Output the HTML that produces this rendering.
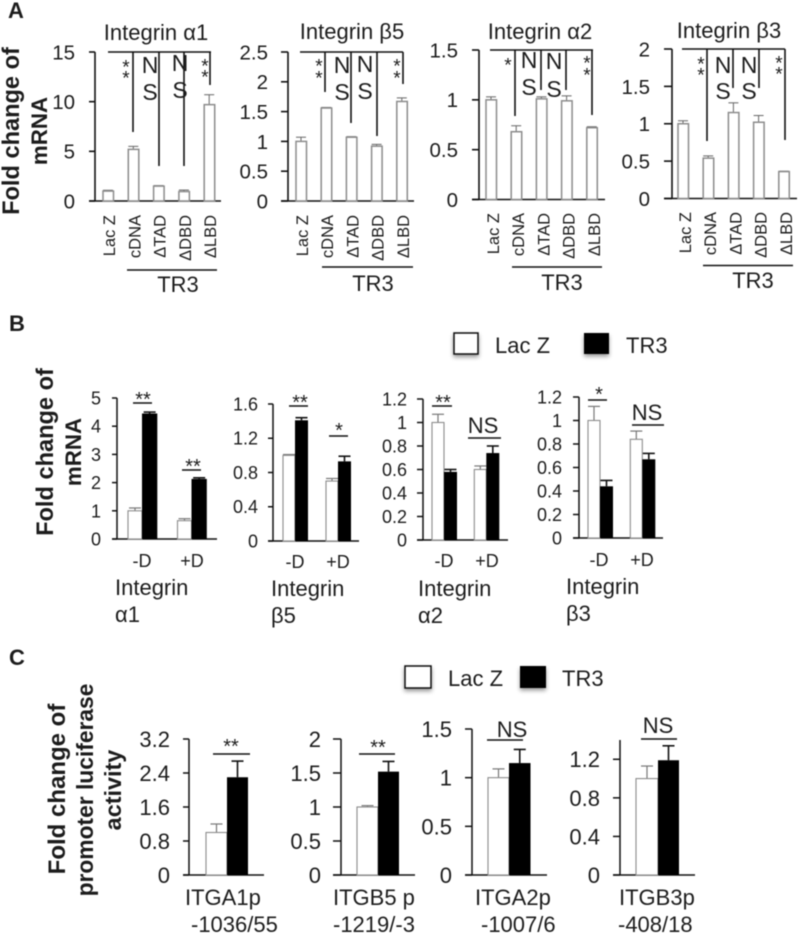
<!DOCTYPE html>
<html lang="en">
<head>
<meta charset="utf-8">
<title>Integrin mRNA and promoter activity</title>
<style>
html,body{margin:0;padding:0;background:#fff;width:800px;height:934px;overflow:hidden}
svg{display:block;filter:blur(0.45px)}
text{font-family:"Liberation Sans",sans-serif;fill:#1c1c1c}
</style>
</head>
<body>
<svg id="figure" width="800" height="934" viewBox="0 0 800 934" xmlns="http://www.w3.org/2000/svg">
<defs>
<filter id="soft-shadow" x="-30%" y="-30%" width="160%" height="170%"><feDropShadow dx="0" dy="2.5" stdDeviation="2" flood-color="#000" flood-opacity="0.4"/></filter>
</defs>
</svg>
<script>
/* ---------- data: panel A ---------- */
const categoriesA = ['Lac Z', 'cDNA', 'ΔTAD', 'ΔDBD', 'ΔLBD'];
const valuesA1 = [1, 5.2, 1.5, 0.95, 9.7];
const errorsA1 = [0.08, 0.3, 0.05, 0.15, 1.0];
const ticksA1 = ['0', '5', '10', '15'];
const valuesA2 = [1, 1.56, 1.07, 0.92, 1.67];
const errorsA2 = [0.07, 0.01, 0.01, 0.03, 0.06];
const ticksA2 = ['0', '0.5', '1', '1.5', '2', '2.5'];
const valuesA3 = [1, 0.68, 1.01, 0.99, 0.72];
const errorsA3 = [0.03, 0.06, 0.02, 0.05, 0.01];
const ticksA3 = ['0', '0.5', '1', '1.5'];
const valuesA4 = [1, 0.54, 1.15, 1.02, 0.36];
const errorsA4 = [0.04, 0.03, 0.13, 0.09, 0.005];
const ticksA4 = ['0', '0.5', '1', '1.5', '2'];

/* ---------- data: panel B ---------- */
const categoriesB = ['-D', '+D'];
const lacZB1 = [1, 0.65];
const lacZErrB1 = [0.1, 0.07];
const tr3B1 = [4.45, 2.13];
const tr3ErrB1 = [0.05, 0.04];
const ticksB1 = ['0', '1', '2', '3', '4', '5'];
const lacZB2 = [1, 0.7];
const lacZErrB2 = [0.01, 0.03];
const tr3B2 = [1.41, 0.93];
const tr3ErrB2 = [0.03, 0.06];
const ticksB2 = ['0', '0.4', '0.8', '1.2', '1.6'];
const lacZB3 = [1, 0.6];
const lacZErrB3 = [0.07, 0.03];
const tr3B3 = [0.58, 0.74];
const tr3ErrB3 = [0.02, 0.06];
const ticksB3 = ['0', '0.2', '0.4', '0.6', '0.8', '1', '1.2'];
const lacZB4 = [1, 0.84];
const lacZErrB4 = [0.12, 0.07];
const tr3B4 = [0.44, 0.67];
const tr3ErrB4 = [0.05, 0.05];
const ticksB4 = ['0', '0.2', '0.4', '0.6', '0.8', '1', '1.2'];

/* ---------- data: panel C ---------- */
const lacZC1 = [1];
const lacZErrC1 = [0.2];
const tr3C1 = [2.3];
const tr3ErrC1 = [0.38];
const ticksC1 = ['0', '0.8', '1.6', '2.4', '3.2'];
const lacZC2 = [1];
const lacZErrC2 = [0.02];
const tr3C2 = [1.52];
const tr3ErrC2 = [0.15];
const ticksC2 = ['0', '0.5', '1', '1.5', '2'];
const lacZC3 = [1];
const lacZErrC3 = [0.09];
const tr3C3 = [1.15];
const tr3ErrC3 = [0.14];
const ticksC3 = ['0', '0.5', '1', '1.5'];
const lacZC4 = [1];
const lacZErrC4 = [0.13];
const tr3C4 = [1.19];
const tr3ErrC4 = [0.15];
const ticksC4 = ['0', '0.4', '0.8', '1.2'];

/* ---------- drawing helpers ---------- */
const svg = document.getElementById('figure');
const NS_URI = 'http://www.w3.org/2000/svg';
function make(tag, name, attrs, parent) {
  const el = document.createElementNS(NS_URI, tag);
  
  
  for (const k in attrs) el.setAttribute(k, attrs[k]);
  (parent || svg).appendChild(el);
  return el;
}
function line(name, x1, y1, x2, y2, color, w, parent) {
  return make('line', name, {x1: x1, y1: y1, x2: x2, y2: y2, stroke: color, 'stroke-width': w}, parent);
}
function label(name, str, x, y, size, anchor, parent, extra) {
  const attrs = Object.assign({x: x, y: y, 'font-size': size, 'text-anchor': anchor || 'start'}, extra || {});
  const el = make('text', name, attrs, parent);
  el.textContent = str;
  return el;
}
function vLabel(name, str, x, y, size, anchor, parent, extra) {
  return label(name, str, 0, 0, size, anchor, parent,
    Object.assign({transform: 'translate(' + x + ' ' + y + ') rotate(-90)'}, extra || {}));
}
function stars(name, str, x, cy, size, parent) {
  return label(name, str, x, cy + size * 0.56, size, 'middle', parent);
}
function yAxis(group, prefix, ticks, domainMax, g, tickSize, axisW) {
  const scale = v => g.bottom - (v / domainMax) * (g.bottom - g.top);
  line(prefix + '-y-axis', g.axisX, g.top, g.axisX, g.bottom, '#111', axisW, group);
  line(prefix + '-x-axis', g.tickLeft, g.bottom, g.right, g.bottom, '#111', axisW, group);
  ticks.forEach(t => {
    const y = scale(parseFloat(t));
    line(prefix + '-y-tick', g.tickLeft, y, g.axisX, y, '#111', axisW, group);
    label(prefix + '-y-tick-label', t, g.labelRight, y + tickSize * 0.36, tickSize, 'end', group);
  });
  return scale;
}
function whisker(group, name, x, yTop, yBase, cap, color, w) {
  line(name + '-error-stem', x, yBase, x, yTop, color, w, group);
  line(name + '-error-cap', x - cap, yTop, x + cap, yTop, color, w, group);
}

/* ---------- panel A: five outlined bars ---------- */
function chartA(id, values, errors, ticks, g) {
  const group = make('g', 'chart-' + id, {});
  const y = yAxis(group, id, ticks, parseFloat(ticks[ticks.length - 1]), g, 20.5, 1.6);
  values.forEach((v, i) => {
    const c = g.first + i * g.step;
    const top = y(v);
    whisker(group, id + '-bar', c, y(v + errors[i]), top, 5, '#666', 1);
    make('rect', id + '-bar-' + i, {x: c - 5, y: top, width: 10.5, height: g.bottom - top, fill: '#fff', stroke: '#8c8c8c', 'stroke-width': 1.5}, group);
    vLabel(id + '-category-label', categoriesA[i], c + g.catOffset, g.catTop, 16.5, 'end', group);
  });
  label(id + '-title', g.title, g.titleX, g.titleY, 22, 'middle', group);
  line(id + '-sig-line', g.sigL, g.top, g.sigR, g.top, '#111', 1.6, group);
  g.drops.forEach(d => line(id + '-sig-drop', d[0], g.top, d[0], d[1], '#111', 1.6, group));
  g.ns.forEach(n => {
    label(id + '-ns-n', 'N', n[0], n[1], 23, 'middle', group);
    label(id + '-ns-s', 'S', n[0], n[2], 23, 'middle', group);
  });
  g.star.forEach(s => stars(id + '-star', '*', s[0], s[1], 19, group));
  line(id + '-tr3-bracket', g.brL, g.brY, g.brR, g.brY, '#111', 1.4, group);
  label(id + '-tr3-label', 'TR3', g.trX, g.trY, 22, 'middle', group);
}

/* ---------- panels B and C: paired bars ---------- */
function chartPair(id, lac, lacErr, tr3, tr3Err, ticks, domainMax, g) {
  const group = make('g', 'chart-' + id, {});
  const y = yAxis(group, id, ticks, domainMax, g, g.tickSize, 1.5);
  lac.forEach((v, i) => {
    const x0 = g.start + i * g.groupStep;
    const mid = x0 + g.w1;
    const cLac = x0 + g.w1 / 2;
    const cTr = mid + g.w2 / 2;
    whisker(group, id + '-lacz', cLac, y(v + lacErr[i]), y(v), g.cap, '#777', 1.2);
    make('rect', id + '-lacz-bar-' + i, {x: x0, y: y(v), width: g.w1, height: g.bottom - y(v), fill: '#fff', stroke: '#8c8c8c', 'stroke-width': 1.1}, group);
    whisker(group, id + '-tr3', cTr, y(tr3[i] + tr3Err[i]), y(tr3[i]), g.cap, '#111', 1.6);
    make('rect', id + '-tr3-bar-' + i, {x: mid, y: y(tr3[i]), width: g.w2, height: g.bottom - y(tr3[i]), fill: '#000'}, group);
  });
  return group;
}
function sigLine(group, id, x1, x2, y, w) {
  line(id + '-sig-line', x1, y, x2, y, '#111', w || 1.6, group);
}

/* ---------- panel letters ---------- */
label('panel-label-a', 'A', 8, 18, 22, 'start', null, {'font-weight': 'bold'});
label('panel-label-b', 'B', 9, 331, 22, 'start', null, {'font-weight': 'bold'});
label('panel-label-c', 'C', 9, 665, 22, 'start', null, {'font-weight': 'bold'});

/* ---------- y titles ---------- */
const bold = {'font-weight': 'bold'};
vLabel('panel-a-y-title-line-1', 'Fold change of', 19, 131, 23.6, 'middle', null, bold);
vLabel('panel-a-y-title-line-2', 'mRNA', 47, 131, 22.3, 'middle', null, bold);
vLabel('panel-b-y-title-line-1', 'Fold change of', 53, 452, 23.6, 'middle', null, bold);
vLabel('panel-b-y-title-line-2', 'mRNA', 81, 452, 22.3, 'middle', null, bold);
vLabel('panel-c-y-title-line-1', 'Fold change of', 65, 789, 24, 'middle', null, bold);
vLabel('panel-c-y-title-line-2', 'promoter luciferase', 93, 790, 22.8, 'middle', null, bold);
vLabel('panel-c-y-title-line-3', 'activity', 121, 790, 23.4, 'middle', null, bold);

/* ---------- panel A charts ---------- */
chartA('a1', valuesA1, errorsA1, ticksA1, {
  axisX: 95, top: 52, bottom: 201, tickLeft: 89, right: 221, labelRight: 75,
  first: 108, step: 25.3, catOffset: 7, catTop: 215,
  title: 'Integrin α1', titleX: 156, titleY: 40,
  sigL: 108, sigR: 211, drops: [[133, 132], [159, 166], [184, 166], [210, 85]],
  ns: [[150, 73, 100], [180, 71, 98]], star: [[126, 63], [126, 74], [205, 62], [205, 73]],
  brL: 127, brR: 217, brY: 270, trX: 178, trY: 292
});
chartA('a2', valuesA2, errorsA2, ticksA2, {
  axisX: 288, top: 52, bottom: 201, tickLeft: 281, right: 414, labelRight: 268,
  first: 301, step: 25.2, catOffset: 7, catTop: 215,
  title: 'Integrin β5', titleX: 352, titleY: 39,
  sigL: 300, sigR: 403, drops: [[325, 92], [351, 123], [377, 136], [403, 84]],
  ns: [[342, 73, 100], [365, 72, 99]], star: [[319, 62], [319, 74], [397, 62], [397, 74]],
  brL: 322, brR: 413, brY: 267, trX: 373, trY: 291
});
chartA('a3', valuesA3, errorsA3, ticksA3, {
  axisX: 479, top: 50, bottom: 199.5, tickLeft: 472, right: 605, labelRight: 458,
  first: 491, step: 25.2, catOffset: 8, catTop: 213,
  title: 'Integrin α2', titleX: 540, titleY: 39,
  sigL: 490, sigR: 593, drops: [[515, 116], [541, 90], [566, 90], [592, 115]],
  ns: [[529, 68, 95], [554, 69, 97]], star: [[508, 61], [587, 59], [587, 71]],
  brL: 512, brR: 602, brY: 267, trX: 562, trY: 290
});
chartA('a4', valuesA4, errorsA4, ticksA4, {
  axisX: 672, top: 49, bottom: 198.5, tickLeft: 664, right: 797, labelRight: 650,
  first: 683, step: 25.2, catOffset: 8, catTop: 212,
  title: 'Integrin β3', titleX: 729, titleY: 38,
  sigL: 682, sigR: 785, drops: [[707, 141], [733, 88], [759, 88], [785, 140]],
  ns: [[723, 73, 99], [749, 73, 99]], star: [[701, 60], [701, 71], [779, 59], [779, 70]],
  brL: 703, brR: 793, brY: 265.5, trX: 753, trY: 288
});

/* ---------- panel B charts ---------- */
function chartB(id, lac, lacErr, tr3, tr3Err, ticks, g, sub1, sub2, subX, subY1, subY2, catY, catXs) {
  const group = chartPair(id, lac, lacErr, tr3, tr3Err, ticks, parseFloat(ticks[ticks.length - 1]), g);
  categoriesB.forEach((c, i) => label(id + '-category-label', c, catXs[i], catY, 18, 'middle', group));
  label(id + '-title-line-1', sub1, subX, subY1, 22, 'start', group);
  label(id + '-title-line-2', sub2, subX, subY2, 22, 'start', group);
  return group;
}
const b1 = chartB('b1', lacZB1, lacZErrB1, tr3B1, tr3ErrB1, ticksB1,
  {axisX: 117, top: 398, bottom: 539, tickLeft: 112, right: 217, labelRight: 101, tickSize: 18,
   start: 128, groupStep: 49.5, w1: 14, w2: 15.3, cap: 6},
  'Integrin', 'α1', 115, 595, 622, 567, [142, 192]);
sigLine(b1, 'b1-minus-d', 133, 152, 403);
stars('b1-minus-d-stars', '**', 143, 395, 20, b1);
sigLine(b1, 'b1-plus-d', 182, 201, 470);
stars('b1-plus-d-stars', '**', 193, 462, 20, b1);

const b2 = chartB('b2', lacZB2, lacZErrB2, tr3B2, tr3ErrB2, ticksB2,
  {axisX: 273, top: 404, bottom: 541, tickLeft: 268, right: 359, labelRight: 258, tickSize: 18,
   start: 283, groupStep: 43, w1: 12, w2: 13, cap: 6},
  'Integrin', 'β5', 271, 596, 623, 568, [295, 338]);
sigLine(b2, 'b2-minus-d', 289, 308, 406);
stars('b2-minus-d-stars', '**', 300, 398, 20, b2);
sigLine(b2, 'b2-plus-d', 329, 348, 436);
stars('b2-plus-d-star', '*', 339, 426, 20, b2);

const b3 = chartB('b3', lacZB3, lacZErrB3, tr3B3, tr3ErrB3, ticksB3,
  {axisX: 423, top: 399, bottom: 540, tickLeft: 417, right: 508, labelRight: 407, tickSize: 18,
   start: 432, groupStep: 42.3, w1: 12, w2: 13, cap: 6},
  'Integrin', 'α2', 418, 596, 623, 567, [444, 487]);
sigLine(b3, 'b3-minus-d', 432, 452, 406);
stars('b3-minus-d-stars', '**', 443, 398, 20, b3);
sigLine(b3, 'b3-plus-d', 468, 501, 438);
label('b3-plus-d-ns', 'NS', 483, 433, 22, 'middle', b3);

const b4 = chartB('b4', lacZB4, lacZErrB4, tr3B4, tr3ErrB4, ticksB4,
  {axisX: 579, top: 397, bottom: 538, tickLeft: 573, right: 663, labelRight: 562, tickSize: 18,
   start: 588, groupStep: 42.3, w1: 12, w2: 13, cap: 6},
  'Integrin', 'β3', 566, 594, 621, 566, [599, 642]);
sigLine(b4, 'b4-minus-d', 588, 607, 400);
stars('b4-minus-d-star', '*', 599, 390, 20, b4);
sigLine(b4, 'b4-plus-d', 632, 664, 425);
label('b4-plus-d-ns', 'NS', 647, 420, 22, 'middle', b4);

/* ---------- panel C charts ---------- */
function chartC(id, lac, lacErr, tr3, tr3Err, ticks, domainMax, g, l1, l1x, l2, l2x) {
  const group = chartPair(id, lac, lacErr, tr3, tr3Err, ticks, domainMax, g);
  label(id + '-category-line-1', l1, l1x, 905, 22, 'start', group);
  label(id + '-category-line-2', l2, l2x, 932, 22, 'start', group);
  return group;
}
const c1 = chartC('c1', lacZC1, lacZErrC1, tr3C1, tr3ErrC1, ticksC1, 3.2,
  {axisX: 189, top: 739, bottom: 875, tickLeft: 183, right: 264, labelRight: 170, tickSize: 22,
   start: 206, groupStep: 0, w1: 21, w2: 21, cap: 6},
  'ITGA1p', 185, '-1036/55', 191);
sigLine(c1, 'c1', 213, 250, 754);
stars('c1-stars', '**', 231, 742, 20, c1);

const c2 = chartC('c2', lacZC2, lacZErrC2, tr3C2, tr3ErrC2, ticksC2, 2,
  {axisX: 341, top: 739, bottom: 875, tickLeft: 333, right: 415, labelRight: 321, tickSize: 22,
   start: 357, groupStep: 0, w1: 21, w2: 21, cap: 6},
  'ITGB5 p', 333, '-1219/-3', 333);
sigLine(c2, 'c2', 359, 395, 754);
stars('c2-stars', '**', 378, 743, 20, c2);

const c3 = chartC('c3', lacZC3, lacZErrC3, tr3C3, tr3ErrC3, ticksC3, 1.5,
  {axisX: 472, top: 729, bottom: 875, tickLeft: 465, right: 547, labelRight: 452, tickSize: 22,
   start: 488, groupStep: 0, w1: 21, w2: 21.5, cap: 6},
  'ITGA2p', 475, '-1007/6', 481);
sigLine(c3, 'c3', 487, 523, 740);
label('c3-ns', 'NS', 512, 737, 22, 'middle', c3);

const c4 = chartC('c4', lacZC4, lacZErrC4, tr3C4, tr3ErrC4, ticksC4, 1.4,
  {axisX: 620, top: 740, bottom: 875, tickLeft: 613, right: 695, labelRight: 600, tickSize: 22,
   start: 636, groupStep: 0, w1: 22, w2: 21, cap: 6},
  'ITGB3p', 619, '-408/18', 618);
sigLine(c4, 'c4', 641, 677, 739);
label('c4-ns', 'NS', 658, 733, 22, 'middle', c4);

/* ---------- legends ---------- */
function legend(id, x1, w1, tx1, x2, w2, tx2, y, h, base) {
  const group = make('g', id, {});
  make('rect', id + '-lacz-swatch', {x: x1, y: y, width: w1, height: h, fill: '#fff', stroke: '#111', 'stroke-width': 1.5, filter: 'url(#soft-shadow)'}, group);
  label(id + '-lacz-label', 'Lac Z', tx1, base, 22, 'start', group);
  make('rect', id + '-tr3-swatch', {x: x2, y: y, width: w2, height: h, fill: '#000', filter: 'url(#soft-shadow)'}, group);
  label(id + '-tr3-label', 'TR3', tx2, base, 22, 'start', group);
}
legend('legend-b', 454, 24, 495, 584, 25, 626, 333, 21, 353);
legend('legend-c', 405, 26, 448, 520, 26, 562, 666, 22, 686);
</script>
</body>
</html>
